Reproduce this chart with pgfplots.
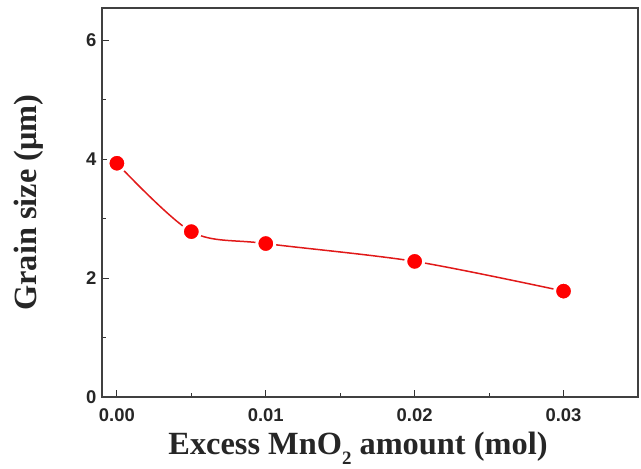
\documentclass[border=0pt]{standalone}
\usepackage{pgfplots}
\pgfplotsset{compat=1.18}
\usepackage{fontspec}
\setmainfont{Liberation Serif}
\newfontfamily\ticksf{Liberation Sans}
\begin{document}
\begin{tikzpicture}[x=1bp,y=1bp]
\useasboundingbox (-102bp,-72bp) rectangle (539bp,397bp);
\begin{axis}[
  at={(0,0)}, anchor=south west,
  scale only axis,
  width=536bp, height=389bp,
  xmin=-0.001, xmax=0.035,
  ymin=0, ymax=6.54,
  xtick={0,0.01,0.02,0.03},
  minor xtick={0.005,0.015,0.025},
  ytick={0,2,4,6},
  minor ytick={1,3,5},
  tick align=inside,
  xtick pos=bottom, ytick pos=left,
  major tick length=7bp, minor tick length=4bp,
  tick style={black!80, line width=0.8bp},
  axis line style={line width=1.3bp, black!75},
  /pgf/number format/assume math mode=true,
  scaled x ticks=false,
  xticklabel style={/pgf/number format/fixed, /pgf/number format/precision=2, /pgf/number format/fixed zerofill, yshift=-8bp},
  yticklabel style={xshift=-2bp},
  ticklabel style={font=\ticksf\bfseries\fontsize{18.5}{20}\selectfont, text=black!85},
  xlabel={\bfseries Excess MnO\raisebox{-0.3em}{\fontsize{19}{19}\selectfont 2} amount (mol)},
  ylabel={\bfseries Grain size (μm)},
  label style={font=\fontsize{32.5}{36}\selectfont, text=black!85},
  xlabel style={at={(rel axis cs:0.5,0)}, anchor=center, yshift=-51bp, xshift=-12bp},
  ylabel style={at={(rel axis cs:0,0.5)}, anchor=center, rotate=0, yshift=73bp},
]
\addplot[smooth, tension=0.5, color={rgb,255:red,225;green,25;blue,25}, line width=1.5bp,
  mark=*, mark size=9bp,
  mark options={fill={rgb,255:red,255;green,0;blue,0}, draw=white, line width=3bp}]
coordinates {
  (0,3.93) (0.005,2.78) (0.01,2.58) (0.02,2.28) (0.03,1.78)
};
\end{axis}
\end{tikzpicture}
\end{document}
